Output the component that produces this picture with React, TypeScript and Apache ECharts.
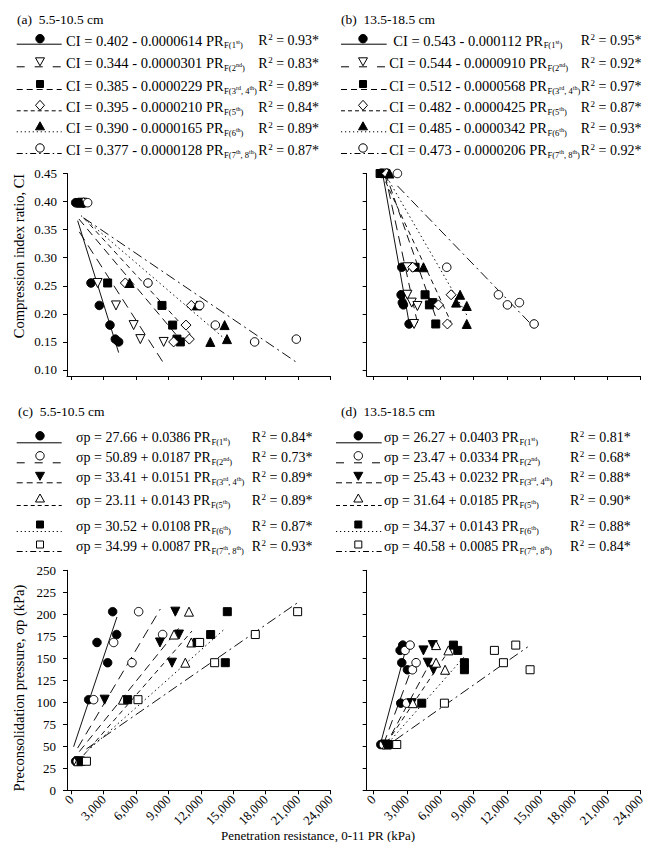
import React, { useEffect, useRef } from "react";
import * as echarts from "echarts";

const FONT = "'Liberation Serif', 'Times New Roman', serif";

// ---------- Panel (a) 5.5-10.5 cm : CI vs PR ----------
const A_CI = [0.398, 0.255, 0.215, 0.18, 0.155, 0.15];
const A_PR_F1 = [401, 1821, 2593, 3580, 4074, 4383];
const A_PR_F2 = [1018, 2438, 4136, 5771, 6389, 8549];
const A_PR_F34 = [710, 3364, 8395, 9382, 9784, 10093];
const A_PR_F5 = [1142, 5000, 11111, 10617, 10926, 9475];
const A_PR_F6 = [895, 5401, 11636, 14197, 14414, 12870];
const A_PR_F78 = [1512, 7099, 11882, 13333, 20833, 16975];
const A_LINE_X = [[586, 4383], [740, 8549], [700, 10093], [1142, 11111], [895, 14414], [1142, 20833]];
const A_LINE_Y = [[0.366, 0.131], [0.346, 0.112], [0.369, 0.154], [0.371, 0.162], [0.375, 0.152], [0.371, 0.114]];
const A_EQ = [
  "CI = 0.402 - 0.0000614 PR",
  "CI = 0.344 - 0.0000301 PR",
  "CI = 0.385 - 0.0000229 PR",
  "CI = 0.395 - 0.0000210 PR",
  "CI = 0.390 - 0.0000165 PR",
  "CI = 0.377 - 0.0000128 PR",
];
const A_R2 = ["0.93*", "0.83*", "0.89*", "0.84*", "0.89*", "0.87*"];

// ---------- Panel (b) 13.5-18.5 cm : CI vs PR ----------
const B_PR_F1 = [752, 2548, 2488, 2697, 2600, 3207];
const B_CI_F1 = [0.45, 0.283, 0.234, 0.216, 0.22, 0.182];
const B_PR_F2 = [961, 3057, 3057, 3446, 3955, 3656];
const B_CI_F2 = [0.45, 0.283, 0.234, 0.22, 0.214, 0.182];
const B_PR_F34 = [602, 3746, 4643, 5033, 5332, 5602];
const B_CI_F34 = [0.45, 0.283, 0.234, 0.216, 0.22, 0.182];
const B_PR_F5 = [1201, 3536, 6979, 5841, 6650];
const B_CI_F5 = [0.45, 0.283, 0.234, 0.216, 0.182];
const B_PR_F6 = [1440, 4494, 7788, 7428, 8387, 8387];
const B_CI_F6 = [0.45, 0.283, 0.234, 0.22, 0.214, 0.182];
const B_PR_F78 = [2159, 6590, 11231, 12040, 13117, 14435];
const B_CI_F78 = [0.45, 0.283, 0.234, 0.216, 0.22, 0.182];
const B_LINE_X = [[830, 3207], [1033, 3955], [1092, 5602], [753, 6979], [1023, 8387], [2159, 14435]];
const B_LINE_Y = [[0.45, 0.184], [0.45, 0.184], [0.45, 0.194], [0.45, 0.185], [0.45, 0.198], [0.428, 0.176]];
const B_EQ = [
  "CI = 0.543 - 0.000112 PR",
  "CI = 0.544 - 0.0000910 PR",
  "CI = 0.512 - 0.0000568 PR",
  "CI = 0.482 - 0.0000425 PR",
  "CI = 0.485 - 0.0000342 PR",
  "CI = 0.473 - 0.0000206 PR",
];
const B_R2 = ["0.95*", "0.92*", "0.97*", "0.87*", "0.93*", "0.92*"];

// ---------- Panel (c) 5.5-10.5 cm : sigma p vs PR ----------
const C_SP = [33, 103, 145, 168, 177, 203];
const C_PR_F1 = [400, 1605, 3364, 2377, 4198, 3827];
const C_PR_F2 = [550, 2068, 5617, 3920, 8456, 6234];
const C_PR_F34 = [700, 3086, 9321, 8209, 9969, 9630];
const C_PR_F5 = [650, 4784, 10556, 11111, 9507, 10895];
const C_PR_F6 = [900, 5216, 14259, 11650, 12901, 14444];
const C_PR_F78 = [1400, 6173, 13271, 11882, 17037, 20956];
const C_LINE_X = [[213, 4228], [586, 8241], [740, 9938], [1142, 11173], [1500, 14259], [1400, 21049]];
const C_LINE_Y = [[49.5, 197], [48, 206], [44, 184], [40, 181], [45, 184], [47, 214]];
const C_EQ = [
  "σp = 27.66 + 0.0386 PR",
  "σp = 50.89 + 0.0187 PR",
  "σp = 33.41 + 0.0151 PR",
  "σp = 23.11 + 0.0143 PR",
  "σp = 30.52 + 0.0108 PR",
  "σp = 34.99 + 0.0087 PR",
];
const C_R2 = ["0.84*", "0.73*", "0.89*", "0.89*", "0.87*", "0.93*"];

// ---------- Panel (d) 13.5-18.5 cm : sigma p vs PR ----------
const D_SP = [52, 99, 137, 145, 159, 165];
const D_PR_F1 = [662, 2458, 3057, 2548, 2398, 2638];
const D_PR_F2 = [901, 2997, 3506, 3835, 2847, 3296];
const D_PR_F34 = [1051, 3446, 5392, 4883, 4494, 5332];
const D_PR_F5 = [1201, 3536, 6440, 5632, 6739, 5632];
const D_PR_F6 = [1350, 4345, 8177, 8177, 7578, 7188];
const D_PR_F78 = [2099, 6380, 14075, 11680, 10871, 12788];
const D_LINE_X = [[662, 2800], [901, 3835], [1051, 5392], [1201, 6739], [1350, 8177], [1950, 13866]];
const D_LINE_Y = [[54, 155], [52, 152], [50, 152], [54, 158], [54, 152], [57, 163]];
const D_EQ = [
  "σp = 26.27 + 0.0403 PR",
  "σp = 23.47 + 0.0334 PR",
  "σp = 25.43 + 0.0232 PR",
  "σp = 31.64 + 0.0185 PR",
  "σp = 34.37 + 0.0143 PR",
  "σp = 40.58 + 0.0085 PR",
];
const D_R2 = ["0.81*", "0.68*", "0.88*", "0.90*", "0.88*", "0.84*"];

// subscripts F(1st) ... alternating normal / superscript parts
const SUBS = [
  ["F(1", "st", ")"],
  ["F(2", "nd", ")"],
  ["F(3", "rd", ", 4", "th", ")"],
  ["F(5", "th", ")"],
  ["F(6", "th", ")"],
  ["F(7", "th", ", 8", "th", ")"],
];

const X_TICKS = [0, 3000, 6000, 9000, 12000, 15000, 18000, 21000, 24000];
const CI_TICKS = [0.1, 0.15, 0.2, 0.25, 0.3, 0.35, 0.4, 0.45];

const PANEL_TITLES = ["(a)  5.5-10.5 cm", "(b)  13.5-18.5 cm", "(c)  5.5-10.5 cm", "(d)  13.5-18.5 cm"];
const Y_TITLE_TOP = "Compression index ratio, CI";
const Y_TITLE_BOTTOM = "Preconsolidation pressure, σp (kPa)";
const X_TITLE = "Penetration resistance, 0-11 PR (kPa)";

const DASH_PLOT: any[] = ["solid", [10, 6], [8, 5], [5, 4], [1.5, 3], [10, 4, 2, 4]];
const DASH_LEG: any[] = [null, [8, 10], [6, 4], [4, 3], [1.2, 2.8], [6, 3, 1.5, 3]];

type Sym = { symbol: string; size: number; rotate?: number; fill: boolean; kind: string };
const TOP_SYMS: Sym[] = [
  { symbol: "circle", size: 8.5, fill: true, kind: "circle" },
  { symbol: "triangle", size: 9, rotate: 180, fill: false, kind: "tdown" },
  { symbol: "rect", size: 8, fill: true, kind: "rect" },
  { symbol: "diamond", size: 10, fill: false, kind: "diamond" },
  { symbol: "triangle", size: 9, fill: true, kind: "tup" },
  { symbol: "circle", size: 8.5, fill: false, kind: "circle" },
];
const BOT_SYMS: Sym[] = [
  { symbol: "circle", size: 8.5, fill: true, kind: "circle" },
  { symbol: "circle", size: 8.5, fill: false, kind: "circle" },
  { symbol: "triangle", size: 9, rotate: 180, fill: true, kind: "tdown" },
  { symbol: "triangle", size: 9, fill: false, kind: "tup" },
  { symbol: "rect", size: 8, fill: true, kind: "rect" },
  { symbol: "rect", size: 8, fill: false, kind: "rect" },
];

function scatter(g: number, xs: number[], ys: number[], s: Sym) {
  return {
    type: "scatter",
    xAxisIndex: g,
    yAxisIndex: g,
    data: xs.map((x, i) => [x, ys[i]]),
    symbol: s.symbol,
    symbolSize: s.size,
    symbolRotate: s.rotate || 0,
    itemStyle: { color: s.fill ? "#000" : "#fff", borderColor: "#000", borderWidth: 1, opacity: 1 },
    z: 3,
    silent: true,
  };
}

function regLine(g: number, xs: number[], ys: number[], dash: any) {
  return {
    type: "line",
    xAxisIndex: g,
    yAxisIndex: g,
    data: xs.map((x, i) => [x, ys[i]]),
    showSymbol: false,
    symbol: "none",
    lineStyle: { color: "#111", width: 1, type: dash },
    z: 2,
    silent: true,
  };
}

function markerEl(kind: string, fill: boolean, cx: number, cy: number) {
  const style = { fill: fill ? "#000" : "#fff", stroke: "#000", lineWidth: 1 };
  if (kind === "circle") return { type: "circle", shape: { cx, cy, r: 4.2 }, style, z: 10 };
  if (kind === "rect") return { type: "rect", shape: { x: cx - 3.5, y: cy - 3.5, width: 7, height: 7 }, style, z: 10 };
  if (kind === "tup")
    return { type: "polygon", shape: { points: [[cx, cy - 4.5], [cx + 4.5, cy + 3.5], [cx - 4.5, cy + 3.5]] }, style, z: 10 };
  if (kind === "tdown")
    return { type: "polygon", shape: { points: [[cx - 4.5, cy - 3.5], [cx + 4.5, cy - 3.5], [cx, cy + 4.5]] }, style, z: 10 };
  return { type: "polygon", shape: { points: [[cx, cy - 5], [cx + 4.5, cy], [cx, cy + 5], [cx - 4.5, cy]] }, style, z: 10 };
}

let measureCtx: CanvasRenderingContext2D | null = null;
function textWidth(t: string, size: number) {
  if (!measureCtx) measureCtx = document.createElement("canvas").getContext("2d");
  measureCtx!.font = `${size}px ${FONT}`;
  return measureCtx!.measureText(t).width;
}

function txt(t: string, x: number, y: number, size: number) {
  return {
    type: "text",
    x,
    y,
    z: 10,
    style: { text: t, fontFamily: FONT, fontSize: size, fill: "#000", align: "left", verticalAlign: "middle" },
  };
}

// equation with subscript F(..) whose ordinal suffixes are raised
function eqEls(eq: string, sub: string[], x: number, y: number, mainSize: number, subSize: number, supSize: number) {
  const els: any[] = [txt(eq, x, y, mainSize)];
  let cx = x + textWidth(eq, mainSize) + 0.5;
  sub.forEach((p, i) => {
    if (i % 2 === 0) {
      els.push(txt(p, cx, y + 4.5, subSize));
      cx += textWidth(p, subSize);
    } else {
      els.push(txt(p, cx, y + 1.5, supSize));
      cx += textWidth(p, supSize);
    }
  });
  return els;
}

function r2Els(val: string, x: number, y: number, size: number) {
  const wR = textWidth("R", size);
  const w2 = textWidth("2", 9);
  return [txt("R", x, y, size), txt("2", x + wR + 0.5, y - 3.5, 9), txt(` = ${val}`, x + wR + w2 + 0.5, y, size)];
}

function legendBlock(
  eqs: string[],
  r2s: string[],
  syms: Sym[],
  rowsY: number[],
  lineX0: number,
  lineX1: number,
  markX: number,
  textX: number[],
  r2X: number,
  markDy: number,
  lineDy: number,
  mainSize: number,
  subSize: number
) {
  const els: any[] = [];
  eqs.forEach((eq, i) => {
    const y = rowsY[i];
    const dash = DASH_LEG[i];
    els.push({
      type: "line",
      shape: { x1: lineX0, y1: y + lineDy, x2: lineX1, y2: y + lineDy },
      style: { stroke: "#000", lineWidth: 1, lineDash: dash || undefined },
      z: 9,
    });
    els.push(markerEl(syms[i].kind, syms[i].fill, markX, y + markDy));
    els.push(...eqEls(eq, SUBS[i], textX[i], y, mainSize, subSize, 6));
    els.push(...r2Els(r2s[i], r2X, y, 14));
  });
  return els;
}

const TOP_ROWS = [40.7, 63.3, 86, 107.3, 128.3, 150];
const BOT_ROWS = [437.3, 457.3, 477.3, 500, 526, 546];

export default function App() {
  const ref = useRef<HTMLDivElement>(null);
  useEffect(() => {
    document.body.style.margin = "0";
    const chart = echarts.init(ref.current!, undefined, { renderer: "svg" });

    const grids = [
      { left: 67, top: 173.5, width: 263.5, height: 202.5 },
      { left: 366.7, top: 173.5, width: 273.9, height: 202.5 },
      { left: 67, top: 570.3, width: 263.5, height: 220 },
      { left: 366.7, top: 570.3, width: 273.9, height: 220 },
    ].map((g) => ({ ...g, outerBoundsMode: "none", containLabel: false }));

    const xFmt = (v: number) => (v === 0 ? "0" : v.toLocaleString("en-US"));
    const xAxes = [0, 1, 2, 3].map((i) => ({
      type: "value",
      gridIndex: i,
      min: i % 2 === 0 ? -400 : -600,
      max: 24000,
      axisLine: { show: true, onZero: false, lineStyle: { color: "#000", width: 1 } },
      splitLine: { show: false },
      axisTick: { show: true, customValues: X_TICKS, length: 4, lineStyle: { color: "#000" } },
      axisLabel: {
        show: i >= 2,
        customValues: X_TICKS,
        rotate: 45,
        formatter: xFmt,
        fontFamily: FONT,
        fontSize: 13,
        color: "#000",
        margin: 7,
      },
    }));
    const yAxes = [0, 1, 2, 3].map((i) => {
      const top = i < 2;
      return {
        type: "value",
        gridIndex: i,
        min: top ? 0.0893 : 0,
        max: top ? 0.45 : 250,
        interval: top ? undefined : 25,
        axisLine: { show: true, onZero: false, lineStyle: { color: "#000", width: 1 } },
        splitLine: { show: false },
        axisTick: top
          ? { show: true, customValues: CI_TICKS, length: 4, lineStyle: { color: "#000" } }
          : { show: true, length: 4, lineStyle: { color: "#000" } },
        axisLabel: top
          ? {
              show: i % 2 === 0,
              customValues: CI_TICKS,
              formatter: (v: number) => v.toFixed(2),
              fontFamily: FONT,
              fontSize: 13,
              color: "#000",
              margin: 10,
            }
          : { show: i % 2 === 0, fontFamily: FONT, fontSize: 13, color: "#000", margin: 11 },
      };
    });

    const series: any[] = [];
    const addPanel = (g: number, lx: number[][], ly: number[][], pts: [number[], number[]][], syms: Sym[]) => {
      lx.forEach((xs, i) => series.push(regLine(g, xs, ly[i], DASH_PLOT[i])));
      pts.forEach(([xs, ys], i) => series.push(scatter(g, xs, ys, syms[i])));
    };
    addPanel(0, A_LINE_X, A_LINE_Y, [
      [A_PR_F1, A_CI], [A_PR_F2, A_CI], [A_PR_F34, A_CI], [A_PR_F5, A_CI], [A_PR_F6, A_CI], [A_PR_F78, A_CI],
    ], TOP_SYMS);
    addPanel(1, B_LINE_X, B_LINE_Y, [
      [B_PR_F1, B_CI_F1], [B_PR_F2, B_CI_F2], [B_PR_F34, B_CI_F34], [B_PR_F5, B_CI_F5], [B_PR_F6, B_CI_F6], [B_PR_F78, B_CI_F78],
    ], TOP_SYMS);
    addPanel(2, C_LINE_X, C_LINE_Y, [
      [C_PR_F1, C_SP], [C_PR_F2, C_SP], [C_PR_F34, C_SP], [C_PR_F5, C_SP], [C_PR_F6, C_SP], [C_PR_F78, C_SP],
    ], BOT_SYMS);
    addPanel(3, D_LINE_X, D_LINE_Y, [
      [D_PR_F1, D_SP], [D_PR_F2, D_SP], [D_PR_F34, D_SP], [D_PR_F5, D_SP], [D_PR_F6, D_SP], [D_PR_F78, D_SP],
    ], BOT_SYMS);

    const titleStyle = (t: string) => ({ text: t, fontFamily: FONT, fontSize: 13.5, fill: "#000", verticalAlign: "middle" });
    const graphic: any[] = [
      { type: "text", x: 17, y: 19, style: titleStyle(PANEL_TITLES[0]) },
      { type: "text", x: 341, y: 19, style: titleStyle(PANEL_TITLES[1]) },
      { type: "text", x: 18, y: 411.7, style: titleStyle(PANEL_TITLES[2]) },
      { type: "text", x: 341, y: 411.7, style: titleStyle(PANEL_TITLES[3]) },
      {
        type: "text", x: 19, y: 256, rotation: Math.PI / 2,
        style: { text: Y_TITLE_TOP, fontFamily: FONT, fontSize: 14.5, fill: "#000", align: "center", verticalAlign: "middle" },
      },
      {
        type: "text", x: 19, y: 688, rotation: Math.PI / 2,
        style: { text: Y_TITLE_BOTTOM, fontFamily: FONT, fontSize: 14.5, fill: "#000", align: "center", verticalAlign: "middle" },
      },
      {
        type: "text", x: 318, y: 835,
        style: { text: X_TITLE, fontFamily: FONT, fontSize: 13, fill: "#000", align: "center", verticalAlign: "middle" },
      },
      ...legendBlock(A_EQ, A_R2, TOP_SYMS, TOP_ROWS, 16.7, 61.7, 40, [66, 66, 66, 66, 66, 66], 258.3, -2, 3.5, 14.5, 8.5),
      ...legendBlock(B_EQ, B_R2, TOP_SYMS, TOP_ROWS, 341, 386.7, 363, [393.3, 389.3, 389.3, 389.3, 389.3, 389.3], 580.7, -2, 3.5, 14.5, 8.5),
      ...legendBlock(C_EQ, C_R2, BOT_SYMS, BOT_ROWS, 16.7, 61.7, 40, [76, 76, 76, 76, 76, 76], 251.7, -1.5, 5.5, 14, 8.5),
      ...legendBlock(D_EQ, D_R2, BOT_SYMS, BOT_ROWS, 336, 381.7, 358.3, [384, 384, 384, 384, 384, 384], 570, -1.5, 5.5, 14, 8.5),
    ];

    chart.setOption({
      animation: false,
      backgroundColor: "#fff",
      grid: grids,
      xAxis: xAxes,
      yAxis: yAxes,
      series,
      graphic,
    });
    return () => chart.dispose();
  }, []);
  return <div ref={ref} style={{ width: 645, height: 842 }} />;
}
